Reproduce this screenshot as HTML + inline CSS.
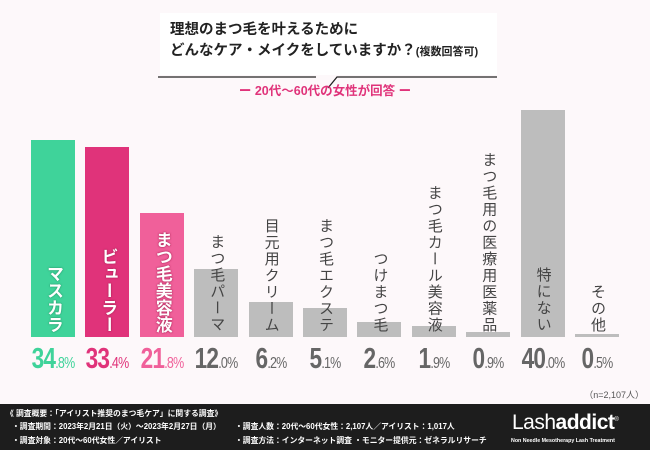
<!DOCTYPE html>
<html><head><meta charset="utf-8"><style>
body{margin:0;width:650px;height:450px;overflow:hidden;background:#fdf8fa;font-family:"Liberation Sans","Noto Sans CJK JP",sans-serif;position:relative}
.title{position:absolute;left:160px;top:13px;width:337px;height:62px;background:#fff}
.t1{position:absolute;left:170px;top:20px;font-size:14.5px;font-weight:bold;color:#222;line-height:21px;white-space:nowrap}
.sub{position:absolute;left:0;width:650px;top:80px;text-align:center;color:#e0337a;font-size:12.5px;font-weight:bold}
.vl{position:absolute;writing-mode:vertical-rl;text-orientation:upright;white-space:nowrap}
.val{position:absolute;top:343px;font-size:29px;font-weight:bold;transform:scaleX(0.78);transform-origin:center top;white-space:nowrap;text-align:center;width:80px;letter-spacing:-1px}
.val small{font-size:16px;font-weight:normal}
.footer{position:absolute;left:0;top:404px;width:650px;height:46px;background:#1d1d1d;color:#fff;font-size:7.8px;font-weight:bold}
.footer div{position:absolute;white-space:nowrap}
</style></head><body>
<div class="title"></div>
<div class="t1">理想のまつ毛を叶えるために<br>どんなケア・メイクをしていますか？<span style="font-size:11px">(複数回答可)</span></div>
<svg style="position:absolute;left:0;top:0" width="650" height="100"><polyline points="158,77 316,77" stroke="#222" stroke-width="1.3" fill="none"/><polyline points="328,88 337,77 497,77" stroke="#222" stroke-width="1.3" fill="none"/></svg>
<div class="sub">ー 20代～60代の女性が回答 ー</div>
<div id="chart"></div>
<div style="position:absolute;right:6px;top:388px;font-size:9px;color:#555">（n=2,107人）</div>
<div class="footer">
<div style="left:6px;top:4px">《 調査概要：「アイリスト推奨のまつ毛ケア」に関する調査》</div>
<div style="left:12px;top:17px">・調査期間：2023年2月21日（火）～2023年2月27日（月）</div>
<div style="left:12px;top:31px">・調査対象：20代～60代女性／アイリスト</div>
<div style="left:235px;top:17px">・調査人数：20代～60代女性：2,107人／アイリスト：1,017人</div>
<div style="left:235px;top:31px">・調査方法：インターネット調査 ・モニター提供元：ゼネラルリサーチ</div>
<div style="left:512px;top:7px;font-size:21px;font-weight:normal;letter-spacing:-0.5px">Lash<b style="font-weight:900">addict</b><sup style="font-size:6px">®</sup></div>
<div style="left:511px;top:34px;font-size:5.3px">Non Needle Mesotherapy Lash Treatment</div>
</div>
<script>
const categories=["マスカラ","ビューラー","まつ毛美容液","まつ毛パーマ","目元用クリーム","まつ毛エクステ","つけまつ毛","まつ毛カール美容液","まつ毛用の医療用医薬品","特にない","その他"];
const values=[34.8,33.4,21.8,12.0,6.2,5.1,2.6,1.9,0.9,40.0,0.5];
const colors=["#3fd39a","#e0337a","#f0609a","#bdbdbd","#bdbdbd","#bdbdbd","#bdbdbd","#bdbdbd","#bdbdbd","#bdbdbd","#bdbdbd"];
const valColors=["#3fd39a","#e0337a","#f0609a","#666","#666","#666","#666","#666","#666","#666","#666"];
const base=337, scale=5.675, x0=31, step=54.4, bw=44;
const xPos=i=>x0+i*step;
const yPos=v=>base-v*scale;
const c=document.getElementById('chart');
values.forEach((v,i)=>{
  const b=document.createElement('div');
  
  
  b.style.cssText=`position:absolute;left:${xPos(i)}px;top:${yPos(v)}px;width:${bw}px;height:${v*scale}px;background:${colors[i]}`;
  c.appendChild(b);
  const l=document.createElement('div');
  
  
  l.className='vl';
  l.textContent=categories[i];
  const col=i<3;
  l.style.fontSize=col?'17px':'15px';
  l.style.fontWeight=col?'bold':'normal';
  l.style.lineHeight='20px';
  l.style.letterSpacing=col?'0px':'1.5px';
  l.style.color=col?'#fff':'#444';
  if(col){l.style.textShadow='0 0 2px #aa2255,0 0 1px #aa2255';if(i==0)l.style.textShadow='0 0 2px #2a9a6e,0 0 1px #2a9a6e';}
  l.style.left=(xPos(i)+bw/2-10)+'px';
  l.style.bottom=(450-base+4)+'px';
  c.appendChild(l);
  const t=document.createElement('div');
  
  
  t.className='val';
  const s=v.toFixed(1).split('.');
  t.innerHTML=s[0]+'<small>.'+s[1]+'%</small>';
  t.style.color=valColors[i];
  t.style.left=(xPos(i)+bw/2-40)+'px';
  c.appendChild(t);
});
</script>
</body></html>
